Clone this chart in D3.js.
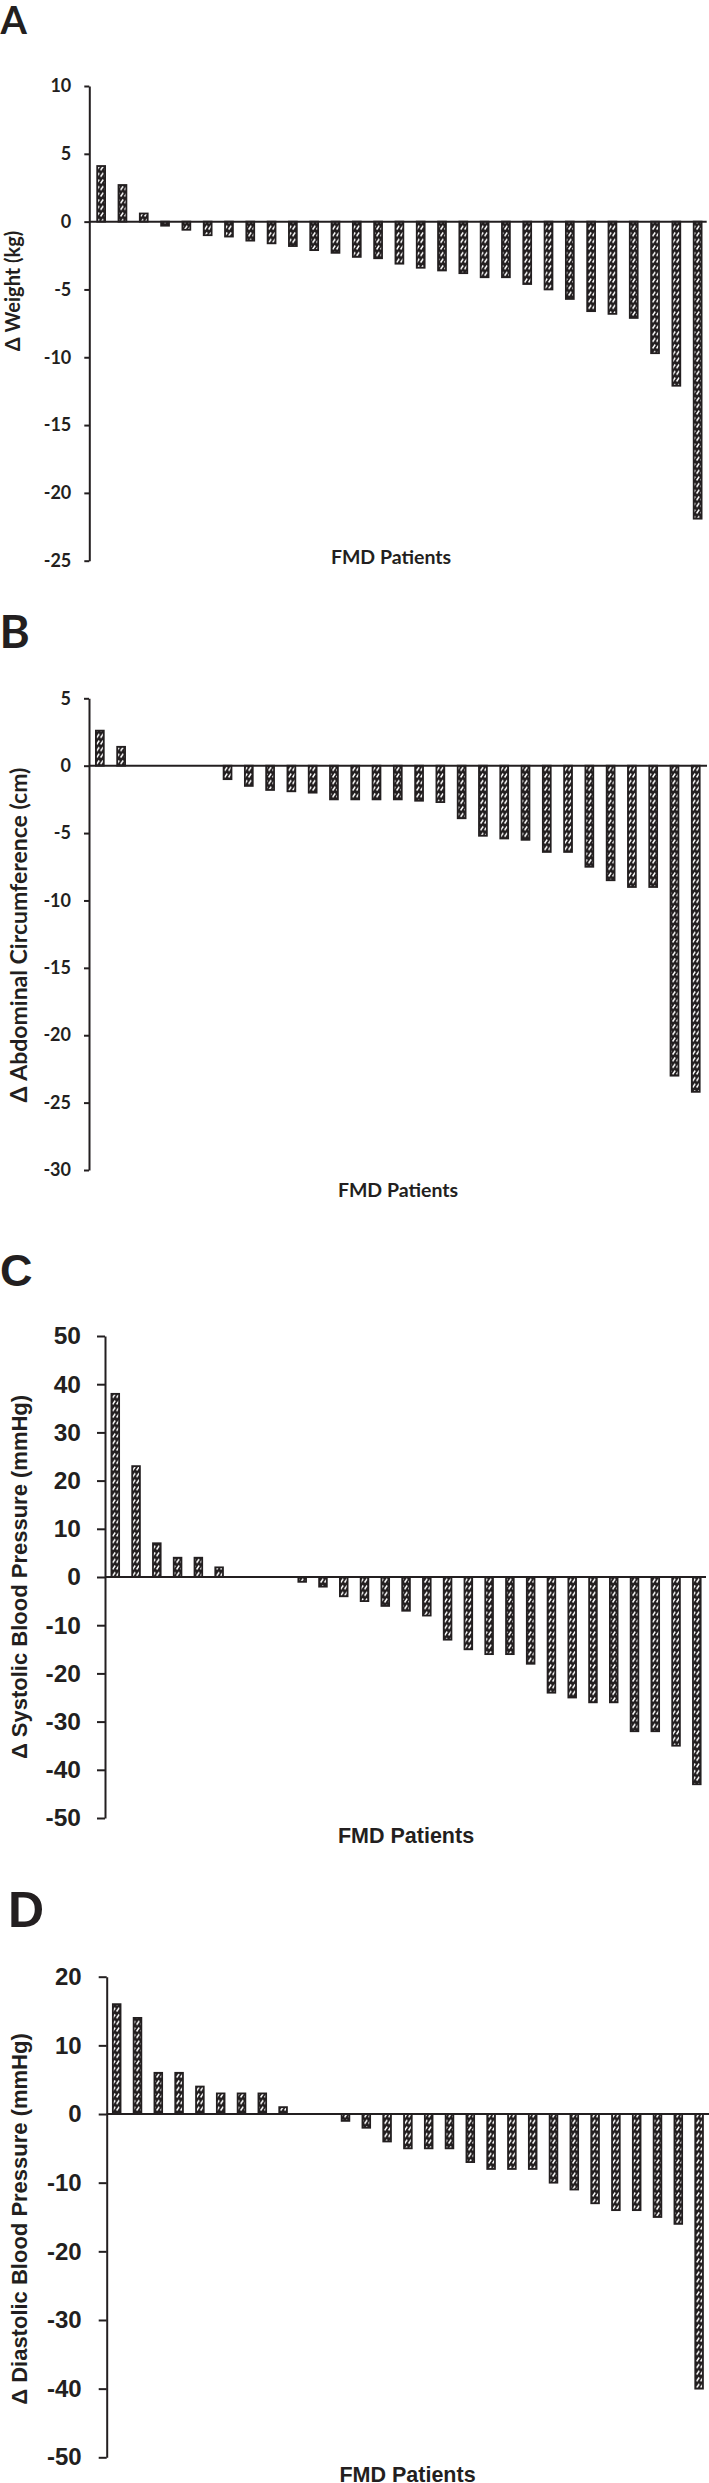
<!DOCTYPE html>
<html><head><meta charset="utf-8">
<script src="https://cdn.jsdelivr.net/npm/d3@7"></script>
<style>html,body{margin:0;padding:0;background:#fff;} svg{display:block;}</style>
</head><body>
<script>
// ---------------- data ----------------
const patients = ["1","2","3","4","5","6","7","8","9","10","11","12","13","14","15",
  "16","17","18","19","20","21","22","23","24","25","26","27","28","29"];
const weightChange = [4.1, 2.7, 0.6, -0.3, -0.6, -1.0, -1.1, -1.4, -1.6, -1.8, -2.1, -2.3, -2.6, -2.7, -3.1,
  -3.4, -3.6, -3.8, -4.1, -4.1, -4.6, -5.0, -5.7, -6.6, -6.8, -7.1, -9.7, -12.1, -21.9];
const abdominalChange = [2.6, 1.4, 0, 0, 0, 0, -1.0, -1.5, -1.8, -1.9, -2.0, -2.5, -2.5, -2.5, -2.5,
  -2.6, -2.7, -3.9, -5.2, -5.4, -5.5, -6.4, -6.4, -7.5, -8.5, -9.0, -9.0, -23.0, -24.2];
const systolicChange = [38, 23, 7, 4, 4, 2, 0, 0, 0, -1, -2, -4, -5, -6, -7,
  -8, -13, -15, -16, -16, -18, -24, -25, -26, -26, -32, -32, -35, -43];
const diastolicChange = [16, 14, 6, 6, 4, 3, 3, 3, 1, 0, 0, -1, -2, -4, -5,
  -5, -5, -7, -8, -8, -8, -10, -11, -13, -14, -14, -15, -16, -40];
const weightTicks = [10, 5, 0, -5, -10, -15, -20, -25];
const abdominalTicks = [5, 0, -5, -10, -15, -20, -25, -30];
const systolicTicks = [50, 40, 30, 20, 10, 0, -10, -20, -30, -40, -50];
const diastolicTicks = [20, 10, 0, -10, -20, -30, -40, -50];
const panelLetters = ["A", "B", "C", "D"];
const yTitles = ["Δ Weight (kg)", "Δ Abdominal Circumference (cm)",
  "Δ Systolic Blood Pressure (mmHg)", "Δ Diastolic Blood Pressure (mmHg)"];
const xTitle = "FMD Patients";

// ---------------- layout ----------------
const W = 709, H = 2483;
const INK = "#231f20";
const svg = d3.select("body").append("svg").attr("width", W).attr("height", H);

const defs = svg.append("defs");
const pat = defs.append("pattern").attr("id", "hatch")
  .attr("patternUnits", "userSpaceOnUse").attr("width", 4).attr("height", 6.6);
pat.append("rect").attr("width", 4).attr("height", 6.6).attr("fill", INK);
pat.append("path").attr("d", "M0.6,5.2 L3.2,1.4").attr("stroke", "#fff").attr("stroke-width", 1.5)
  .attr("stroke-linecap", "butt");

const calibri = "Lato, 'Open Sans', sans-serif";
const arial = "'Liberation Sans', Arial, sans-serif";

const panels = [
  { values: weightChange, ticks: weightTicks, font: calibri,
    axisX: 89.3, yTop: 86, yBot: 560.7, x0: 90.5, x1: 708.3, lineEnd: 706.7,
    tickSize: 5, tickPad: 13, tickFont: 18,
    letterFont: 38, letterX: 0.5, letterY: 33.5,
    titleX: 20, titleY: 291, titleFont: 20,
    xLabX: 391, xLabY: 563.5, xLabFont: 19.5 },
  { values: abdominalChange, ticks: abdominalTicks, font: calibri,
    axisX: 89, yTop: 698.3, yBot: 1170, x0: 89.2, x1: 706.4, lineEnd: 707,
    tickSize: 5, tickPad: 13, tickFont: 18,
    letterFont: 46, letterX: -0.5, letterY: 648.3,
    titleX: 27, titleY: 935, titleFont: 23,
    xLabX: 398, xLabY: 1196.5, xLabFont: 19.5 },
  { values: systolicChange, ticks: systolicTicks, font: arial,
    axisX: 105, yTop: 1336, yBot: 1818, x0: 104.9, x1: 707.2, lineEnd: 706,
    tickSize: 8, tickPad: 16, tickFont: 24.5,
    letterFont: 45, letterX: 0, letterY: 1286,
    titleX: 27, titleY: 1577, titleFont: 22,
    xLabX: 406, xLabY: 1843.4, xLabFont: 21.5 },
  { values: diastolicChange, ticks: diastolicTicks, font: arial,
    axisX: 106.7, yTop: 1976.7, yBot: 2457.3, x0: 106.3, x1: 709.5, lineEnd: 709,
    tickSize: 8, tickPad: 17, tickFont: 24,
    letterFont: 50, letterX: 8, letterY: 1926.7,
    titleX: 27, titleY: 2219, titleFont: 22,
    xLabX: 407.5, xLabY: 2481.5, xLabFont: 21.5 }
];

panels.forEach((p, i) => {
  const g = svg.append("g");
  const y = d3.scaleLinear()
    .domain([d3.min(p.ticks), d3.max(p.ticks)])
    .range([p.yBot, p.yTop]);
  const x = d3.scaleBand().domain(patients).range([p.x0, p.x1]).paddingInner(0.63).paddingOuter(0.315);

  // bars
  g.append("g").selectAll("rect")
    .data(p.values.map((v, k) => ({ id: patients[k], v })).filter(d => d.v !== 0))
    .join("rect")
    .attr("x", d => x(d.id))
    .attr("width", x.bandwidth())
    .attr("y", d => y(Math.max(0, d.v)))
    .attr("height", d => Math.abs(y(d.v) - y(0)))
    .attr("fill", "url(#hatch)")
    .attr("stroke", INK)
    .attr("stroke-width", 1.8);

  // zero line
  g.append("line")
    .attr("x1", p.axisX).attr("x2", p.lineEnd)
    .attr("y1", y(0)).attr("y2", y(0))
    .attr("stroke", INK).attr("stroke-width", 2);

  // y axis
  const ax = g.append("g").attr("transform", `translate(${p.axisX},0)`)
    .call(d3.axisLeft(y).tickValues(p.ticks).tickSize(p.tickSize).tickSizeOuter(0)
      .tickPadding(p.tickPad).tickFormat(d => String(d)));
  ax.select(".domain").attr("stroke", INK).attr("stroke-width", 2);
  ax.selectAll(".tick line").attr("stroke", INK).attr("stroke-width", 2);
  ax.selectAll(".tick text").attr("fill", INK)
    .style("font-family", p.font).style("font-weight", 700).style("font-size", p.tickFont + "px");

  // panel letter
  svg.append("text").attr("x", p.letterX).attr("y", p.letterY)
    .text(panelLetters[i]).attr("fill", INK)
    .style("font-family", p.font).style("font-weight", 700).style("font-size", p.letterFont + "px");

  // y title
  svg.append("text")
    .attr("transform", `translate(${p.titleX},${p.titleY}) rotate(-90)`)
    .attr("text-anchor", "middle").text(yTitles[i]).attr("fill", INK)
    .style("font-family", p.font).style("font-weight", 700).style("font-size", p.titleFont + "px");

  // x title
  svg.append("text").attr("x", p.xLabX).attr("y", p.xLabY)
    .attr("text-anchor", "middle").text(xTitle).attr("fill", INK)
    .style("font-family", p.font).style("font-weight", 700).style("font-size", p.xLabFont + "px");
});
</script>
</body></html>
